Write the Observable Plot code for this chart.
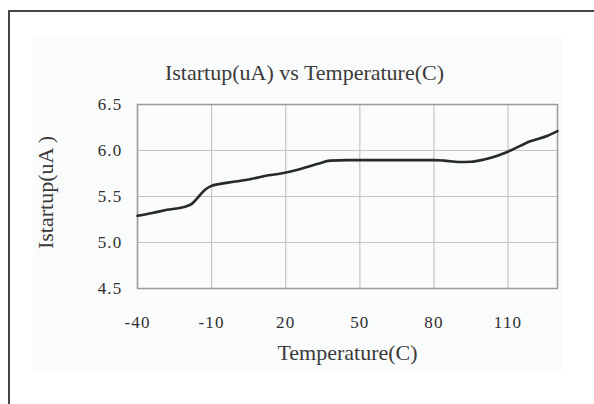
<!DOCTYPE html>
<html>
<head>
<meta charset="utf-8">
<script src="https://cdn.jsdelivr.net/npm/d3@7"></script>
<script src="https://cdn.jsdelivr.net/npm/@observablehq/plot@0.6"></script>
<style>
  html, body { margin: 0; padding: 0; background: #ffffff; }
  #wrap { position: relative; width: 594px; height: 404px; overflow: hidden; }
  #panel { position: absolute; left: 33px; top: 38px; width: 529px; height: 332px; background: #fafbfb; }
  #border { position: absolute; left: 8px; top: 10px; width: 620px; height: 420px; border-left: 2px solid #444; border-top: 2px solid #444; box-sizing: border-box; }
  #chart { position: absolute; left: 0; top: 0; }
  #chart svg [aria-label="x-axis tick label"] text,
  #chart svg [aria-label="y-axis tick label"] text { letter-spacing: 1.2px; font-family: 'Liberation Serif', serif; }
</style>
</head>
<body>
<div id="wrap">
  <div id="panel"></div>
  <div id="border"></div>
  <div id="chart"></div>
</div>
<script>
// Temperature (C) and startup current (uA)
const temperature = [-40, -34, -28, -22, -18, -15.5, -13, -10.5, -6, -1, 6, 13, 18, 26, 33, 38, 45, 60, 80, 84, 90, 95, 100, 106, 111, 119, 126, 130];
const istartup    = [5.29, 5.32, 5.355, 5.38, 5.42, 5.49, 5.565, 5.61, 5.64, 5.66, 5.69, 5.73, 5.75, 5.80, 5.855, 5.89, 5.895, 5.895, 5.895, 5.89, 5.875, 5.878, 5.90, 5.945, 6.0, 6.10, 6.16, 6.21];
const xTicks = [-40, -10, 20, 50, 80, 110];
const yTicks = [4.5, 5.0, 5.5, 6.0, 6.5];
const titleText = "Istartup(uA) vs Temperature(C)";
const xLabelText = "Temperature(C)";
const yLabelText = "Istartup(uA )";

const data = temperature.map((t, i) => ({t, v: istartup[i]}));
const serif = "'Liberation Serif', 'DejaVu Serif', serif";

const chart = Plot.plot({
  width: 594,
  height: 404,
  marginLeft: 137,
  marginRight: 37,
  marginTop: 104,
  marginBottom: 116,
  style: {background: "transparent", fontFamily: serif, fontSize: "17px", color: "#2e2e2e"},
  x: {domain: [-40, 130], ticks: xTicks, tickFormat: d => String(d), tickSize: 0, tickPadding: 27, label: null},
  y: {domain: [4.5, 6.5], ticks: yTicks, tickFormat: d3.format(".1f"), tickSize: 0, tickPadding: 15, label: null},
  marks: [
    Plot.gridX(xTicks, {stroke: "#c4c4c4", strokeOpacity: 1, strokeWidth: 1.2}),
    Plot.gridY(yTicks, {stroke: "#c4c4c4", strokeOpacity: 1, strokeWidth: 1.2}),
    Plot.frame({stroke: "#9a9a9a", strokeWidth: 1.5}),
    Plot.line(data, {x: "t", y: "v", stroke: "#262a28", strokeWidth: 2.6, curve: "monotone-x"}),
    Plot.text([titleText], {frameAnchor: "top", dx: -43, dy: -25, lineAnchor: "bottom", text: d => d, fontSize: 22, fill: "#3a3a3a", fontFamily: serif}),
    Plot.text([xLabelText], {frameAnchor: "bottom", dy: 71, lineAnchor: "bottom", text: d => d, fontSize: 22, fill: "#3a3a3a", fontFamily: serif}),
    Plot.text([yLabelText], {frameAnchor: "left", rotate: -90, textAnchor: "middle", dx: -85, dy: -4, lineAnchor: "bottom", text: d => d, fontSize: 22, fill: "#3a3a3a", fontFamily: serif})
  ]
});
document.getElementById("chart").appendChild(chart);
</script>
</body>
</html>
